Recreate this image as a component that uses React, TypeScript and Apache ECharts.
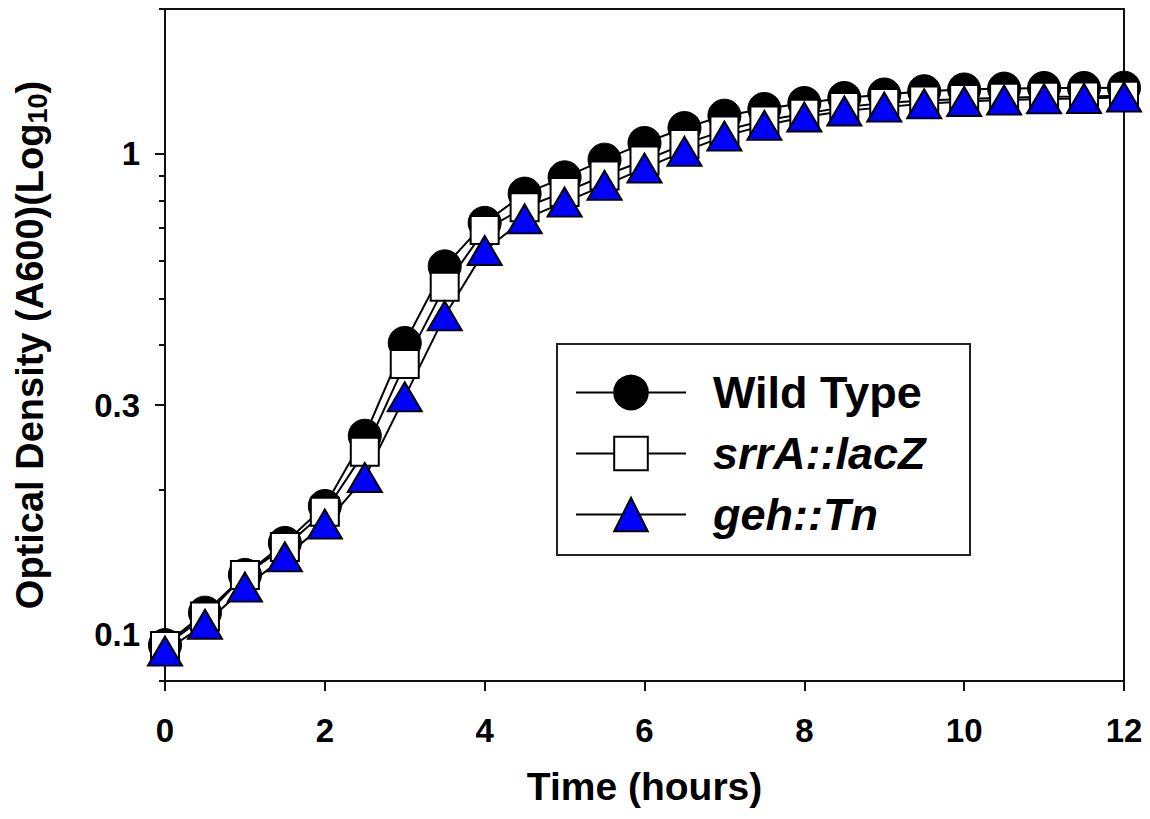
import React, { useEffect, useRef } from "react";
import * as echarts from "echarts";

// ---- Data ----
const hours = [0, 0.5, 1, 1.5, 2, 2.5, 3, 3.5, 4, 4.5, 5, 5.5, 6, 6.5, 7, 7.5, 8, 8.5, 9, 9.5, 10, 10.5, 11, 11.5, 12];

const wildType = [0.095, 0.111, 0.133, 0.155, 0.185, 0.259, 0.404, 0.583, 0.718, 0.826, 0.893, 0.972, 1.053, 1.131, 1.2, 1.239, 1.275, 1.306, 1.328, 1.349, 1.36, 1.366, 1.37, 1.37, 1.372];

const srrALacZ = [0.0946, 0.109, 0.133, 0.152, 0.18, 0.24, 0.365, 0.529, 0.694, 0.774, 0.832, 0.901, 0.968, 1.047, 1.118, 1.173, 1.211, 1.25, 1.275, 1.29, 1.3, 1.308, 1.313, 1.316, 1.32];

const gehTn = [0.0923, 0.105, 0.1254, 0.145, 0.1696, 0.212, 0.312, 0.46, 0.629, 0.732, 0.793, 0.859, 0.933, 1.011, 1.088, 1.145, 1.192, 1.227, 1.25, 1.27, 1.284, 1.293, 1.3, 1.303, 1.311];

const seriesNames = ["Wild Type", "srrA::lacZ", "geh::Tn"];

const yMajorTicks = [0.1, 0.3, 1];
const yMinorTicks = [0.08, 0.09, 0.2, 0.4, 0.5, 0.6, 0.7, 0.8, 0.9, 2];
const yMin = 0.08;
const yMax = 2;
const xMin = 0;
const xMax = 12;
const xInterval = 2;

export default function App() {
  const ref = useRef<HTMLDivElement>(null);

  useEffect(() => {
    if (!ref.current) return;
    const chart = echarts.init(ref.current, null, { renderer: "svg" });
    const font = "'Liberation Sans', Arial, sans-serif";
    const axisColor = "#111";
    const pairs = (ys: number[]) => hours.map((h, i) => [h, ys[i]]);
    const lineStyleAxis = { color: axisColor, width: 2 };

    chart.setOption({
      animation: false,
      backgroundColor: "#ffffff",
      grid: { left: 165, right: 26, top: 9, bottom: 138, containLabel: false, outerBoundsMode: "none" },
      xAxis: [
        {
          type: "value",
          min: xMin,
          max: xMax,
          interval: xInterval,
          position: "bottom",
          axisLine: { show: true, onZero: false, lineStyle: lineStyleAxis },
          axisTick: { show: true, inside: false, length: 10, lineStyle: lineStyleAxis },
          axisLabel: { margin: 33, fontSize: 33, fontWeight: "bold", color: "#000", fontFamily: font },
          splitLine: { show: false },
          name: "Time (hours)",
          nameLocation: "middle",
          nameGap: 86,
          nameTextStyle: { fontSize: 39, fontWeight: "bold", color: "#000", fontFamily: font },
        },
        {
          type: "value",
          min: xMin,
          max: xMax,
          position: "top",
          axisLine: { show: true, onZero: false, lineStyle: lineStyleAxis },
          axisTick: { show: false },
          axisLabel: { show: false },
          splitLine: { show: false },
        },
      ],
      yAxis: [
        {
          type: "log",
          logBase: 10,
          min: yMin,
          max: yMax,
          position: "left",
          axisLine: { show: true, onZero: false, lineStyle: lineStyleAxis },
          axisTick: { show: true, inside: false, length: 10, lineStyle: lineStyleAxis, customValues: yMajorTicks },
          axisLabel: {
            customValues: yMajorTicks,
            formatter: (v: number) => String(v),
            margin: 25,
            fontSize: 33,
            fontWeight: "bold",
            color: "#000",
            fontFamily: font,
          },
          minorTick: { show: false },
          splitLine: { show: false },
          name: "Optical Density (A600)(Log{sub|10})",
          nameLocation: "middle",
          nameRotate: 90,
          nameGap: 114,
          nameTextStyle: {
            fontSize: 38,
            fontWeight: "bold",
            color: "#000",
            fontFamily: font,
            rich: {
              sub: { fontSize: 27, fontWeight: "bold", color: "#000", fontFamily: font, padding: [16, 0, 0, 0] },
            },
          },
        },
        {
          type: "log",
          logBase: 10,
          min: yMin,
          max: yMax,
          position: "left",
          axisLine: { show: false, onZero: false },
          axisTick: { show: true, inside: false, length: 6, lineStyle: lineStyleAxis, customValues: yMinorTicks },
          axisLabel: { show: false },
          splitLine: { show: false },
        },
        {
          type: "log",
          logBase: 10,
          min: yMin,
          max: yMax,
          position: "right",
          axisLine: { show: true, onZero: false, lineStyle: lineStyleAxis },
          axisTick: { show: false },
          axisLabel: { show: false },
          splitLine: { show: false },
        },
      ],
      graphic: [
        {
          type: "rect",
          z: 3,
          shape: { x: 557, y: 344, width: 413, height: 211 },
          style: { fill: "#ffffff", stroke: "#222", lineWidth: 2 },
        },
      ],
      legend: {
        data: seriesNames,
        orient: "vertical",
        left: 575,
        top: 370,
        padding: 0,
        itemWidth: 110,
        itemHeight: 42,
        itemGap: 16,
        selectedMode: false,
        z: 5,
        formatter: (name: string) => (name === "Wild Type" ? `{n|${name}}` : `{i|${name}}`),
        textStyle: {
          fontSize: 45,
          fontWeight: "bold",
          color: "#000",
          fontFamily: font,
          rich: {
            n: { fontSize: 45, fontWeight: "bold", color: "#000", fontFamily: font, padding: [0, 0, 0, 22] },
            i: { fontSize: 45, fontWeight: "bold", fontStyle: "italic", color: "#000", fontFamily: font, padding: [0, 0, 0, 22] },
          },
        },
      },
      series: [
        {
          name: seriesNames[0],
          type: "line",
          xAxisIndex: 0,
          yAxisIndex: 0,
          data: pairs(wildType),
          symbol: "circle",
          symbolSize: 33,
          showSymbol: true,
          lineStyle: { color: "#000", width: 2 },
          itemStyle: { color: "#000", borderColor: "#000", borderWidth: 1 },
        },
        {
          name: seriesNames[1],
          type: "line",
          xAxisIndex: 0,
          yAxisIndex: 0,
          data: pairs(srrALacZ),
          symbol: "rect",
          symbolSize: 28,
          showSymbol: true,
          lineStyle: { color: "#000", width: 2 },
          itemStyle: { color: "#ffffff", borderColor: "#000", borderWidth: 2 },
        },
        {
          name: seriesNames[2],
          type: "line",
          xAxisIndex: 0,
          yAxisIndex: 0,
          data: pairs(gehTn),
          symbol: "triangle",
          symbolSize: [34, 29],
          showSymbol: true,
          lineStyle: { color: "#000", width: 2 },
          itemStyle: { color: "#0000ff", borderColor: "#000", borderWidth: 2 },
        },
      ],
    });

    return () => {
      chart.dispose();
    };
  }, []);

  return (
    <div
      ref={ref}
      style={{ position: "absolute", left: 0, top: 0, width: 1150, height: 819, background: "#fff" }}
    />
  );
}
